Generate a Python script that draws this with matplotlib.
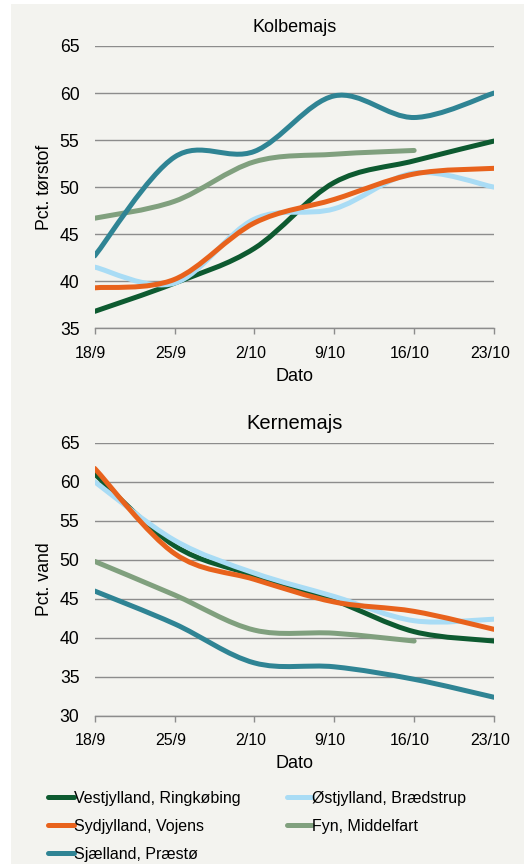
import numpy as np
import matplotlib.pyplot as plt
import matplotlib.transforms as mtransforms
from matplotlib.path import Path
from matplotlib.patches import PathPatch, Rectangle
from matplotlib.lines import Line2D

plt.rcParams['font.family'] = ['Liberation Sans', 'DejaVu Sans']

dates = ["18/9", "25/9", "2/10", "9/10", "16/10", "23/10"]
regions = ["Vestjylland, Ringkøbing", "Østjylland, Brædstrup",
           "Sydjylland, Vojens", "Fyn, Middelfart", "Sjælland, Præstø"]
colors = ["#0d5a30", "#a9dcf5", "#e8621c", "#80a07e", "#2f8494"]

# Kolbemajs - pct. tørstof
kolbe_vest = [36.8, 39.8, 43.5, 50.5, 52.8, 54.9]
kolbe_oest = [41.5, 39.8, 46.6, 47.7, 51.5, 50.0]
kolbe_syd = [39.3, 40.2, 46.2, 48.7, 51.4, 52.0]
kolbe_fyn = [46.7, 48.5, 52.7, 53.5, 53.9]
kolbe_sjael = [42.7, 53.2, 53.8, 59.7, 57.4, 60.0]

# Kernemajs - pct. vand
kerne_vest = [61.0, 51.8, 48.0, 44.8, 40.8, 39.6]
kerne_oest = [60.0, 52.5, 48.3, 45.3, 42.2, 42.4]
kerne_syd = [61.7, 50.8, 47.5, 44.6, 43.4, 41.1]
kerne_fyn = [49.8, 45.5, 41.0, 40.6, 39.6]
kerne_sjael = [46.0, 41.8, 36.8, 36.3, 34.7, 32.4]


def smooth_path(y):
	# excel style smoothed line: bezier segments through each point
	x = np.arange(len(y), dtype=float)
	y = np.asarray(y, dtype=float)
	pts = np.column_stack([x, y])
	verts = [pts[0]]
	codes = [Path.MOVETO]
	n = len(pts)
	for i in range(n - 1):
		p0 = pts[max(i - 1, 0)]
		p1 = pts[i]
		p2 = pts[i + 1]
		p3 = pts[min(i + 2, n - 1)]
		verts += [p1 + (p2 - p0) / 6, p2 - (p3 - p1) / 6, p2]
		codes += [Path.CURVE4] * 3
	return Path(verts, codes)


def draw_panel(ax, series, title, ylabel, ymin, title_size):
	for y, c in zip(series, colors):
		ax.add_patch(PathPatch(smooth_path(y), facecolor="none", edgecolor=c,
		                       lw=3.6, capstyle="round", joinstyle="round", zorder=3))
	ax.set_xlim(0, len(dates) - 1)
	ax.set_ylim(ymin, 65)
	ax.set_yticks(np.arange(ymin, 66, 5))
	ax.set_xticks(np.arange(len(dates)))
	ax.set_xticklabels(dates)
	ax.set_facecolor("none")
	ax.grid(axis="y", color="#8c8c8c", lw=1.0)
	ax.set_axisbelow(True)
	for s in ["top", "right", "left"]:
		ax.spines[s].set_visible(False)
	ax.spines["bottom"].set_color("#8c8c8c")
	ax.spines["bottom"].set_linewidth(1.0)
	ax.tick_params(axis="y", length=0, pad=11, labelsize=12.7)
	ax.tick_params(axis="x", length=4.5, width=1.0, color="#8c8c8c",
	               direction="out", pad=8, labelsize=11.5)
	offset = mtransforms.ScaledTranslation(-4 / 100, 0, ax.figure.dpi_scale_trans)
	for lab in ax.get_xticklabels():
		lab.set_transform(lab.get_transform() + offset)
	ax.set_title(title, fontsize=title_size, pad=10)
	ax.set_ylabel(ylabel, fontsize=12.7, labelpad=5)
	ax.set_xlabel("Dato", fontsize=13, labelpad=5)


fig = plt.figure(figsize=(5.24, 8.64), dpi=100)
fig.patch.set_facecolor("white")
fig.patches.append(Rectangle((11 / 524, 0), 1 - 11 / 524, 1 - 4 / 864,
                             transform=fig.transFigure, facecolor="#f3f3ef",
                             edgecolor="none", zorder=-10))

ax1 = fig.add_axes([94.7 / 524, 1 - 328.3 / 864, 399.3 / 524, 282.3 / 864])
ax2 = fig.add_axes([94.7 / 524, 1 - 716 / 864, 399.3 / 524, 273.3 / 864])

draw_panel(ax1, [kolbe_vest, kolbe_oest, kolbe_syd, kolbe_fyn, kolbe_sjael],
           "Kolbemajs", "Pct. tørstof", 35, 13)
draw_panel(ax2, [kerne_vest, kerne_oest, kerne_syd, kerne_fyn, kerne_sjael],
           "Kernemajs", "Pct. vand", 30, 14.5)

handles = [Line2D([], [], color=c, lw=3.6, solid_capstyle="round") for c in colors]
order = [0, 2, 4, 1, 3]
fig.legend([handles[i] for i in order], [regions[i] for i in order],
           ncol=2, loc="upper left", bbox_to_anchor=(48 / 524, 1 - 791 / 864),
           frameon=False, fontsize=11.5, handlelength=1.6, handletextpad=0.0,
           columnspacing=2.9, labelspacing=0.8, borderaxespad=0, borderpad=0)

fig.savefig("out.png", dpi=100)
